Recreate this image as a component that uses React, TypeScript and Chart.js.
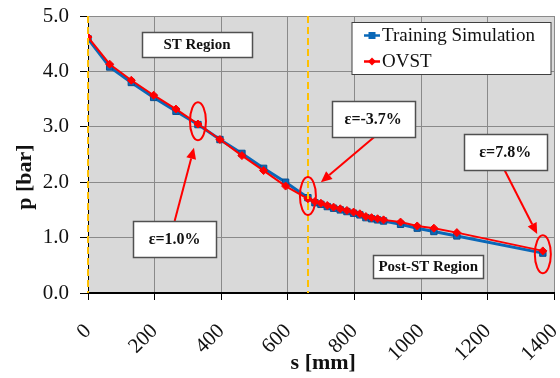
import React, { useEffect, useRef } from 'react';
import { Chart, registerables } from 'chart.js';
Chart.register(...registerables);

// ---- data ----
const sValues = [0, 65, 130, 197, 264, 330, 396, 462, 527, 593, 660, 681, 699, 718, 737, 757, 777, 797, 816, 834, 851, 869, 887, 938, 988, 1038, 1107, 1365];
const trainingP = [4.59, 4.08, 3.80, 3.53, 3.28, 3.04, 2.77, 2.52, 2.25, 2.00, 1.72, 1.63, 1.60, 1.56, 1.53, 1.50, 1.47, 1.44, 1.41, 1.36, 1.34, 1.32, 1.30, 1.24, 1.17, 1.11, 1.03, 0.72];
const ovstP = [4.62, 4.13, 3.84, 3.57, 3.32, 3.05, 2.77, 2.48, 2.21, 1.93, 1.70, 1.65, 1.62, 1.58, 1.55, 1.52, 1.49, 1.46, 1.43, 1.38, 1.36, 1.34, 1.32, 1.28, 1.21, 1.17, 1.09, 0.76];
const seriesNames = ['Training Simulation', 'OVST'];
const xTicks = [0, 200, 400, 600, 800, 1000, 1200, 1400];
const yTicks = [0, 0.5, 1, 1.5, 2, 2.5, 3, 3.5, 4, 4.5, 5];
const regionBoundaries = [0, 660];
const regionLabels = [
  { text: 'ST Region', s: 327, p: 4.49, w: 110, h: 25 },
  { text: 'Post-ST Region', s: 1021, p: 0.48, w: 110, h: 23 },
];
const errorLabels = [
  { text: 'ε=1.0%', s: 260, p: 0.975 },
  { text: 'ε=-3.7%', s: 856, p: 3.14 },
  { text: 'ε=7.8%', s: 1252, p: 2.54 },
];
const ellipses = [
  { s: 330, p: 3.10 },
  { s: 660, p: 1.75 },
  { s: 1365, p: 0.70 },
];
const arrows = [
  { s0: 260, p0: 1.30, s1: 318, p1: 2.62 },
  { s0: 860, p0: 2.82, s1: 699, p1: 2.00 },
  { s0: 1250, p0: 2.22, s1: 1348, p1: 1.065 },
];

const BLUE = '#0a68b8';
const RED = '#ff0000';
const SERIF = '"Liberation Serif", "Times New Roman", serif';

const decor = {
  id: 'decor',
  beforeDraw(chart: any) {
    const { ctx, chartArea: a } = chart;
    ctx.save();
    ctx.fillStyle = '#d9d9d9';
    ctx.fillRect(a.left, a.top, a.right - a.left, a.bottom - a.top);
    ctx.restore();
  },
  afterDatasetsDraw(chart: any) {
    const { ctx, chartArea: a } = chart;
    const X = (v: number) => chart.scales.x.getPixelForValue(v);
    const Y = (v: number) => chart.scales.y.getPixelForValue(v);
    ctx.save();
    // region boundaries
    ctx.strokeStyle = '#ffc000';
    ctx.lineWidth = 2;
    ctx.setLineDash([7, 4]);
    regionBoundaries.forEach((s) => {
      const x = Math.round(X(s));
      ctx.beginPath();
      ctx.moveTo(x, a.top);
      ctx.lineTo(x, a.bottom);
      ctx.stroke();
    });
    ctx.setLineDash([]);
    // ellipses
    ctx.strokeStyle = RED;
    ctx.lineWidth = 2;
    ellipses.forEach((e) => {
      ctx.beginPath();
      ctx.ellipse(X(e.s), Y(e.p), 8, 19, 0, 0, Math.PI * 2);
      ctx.stroke();
    });
    // arrows
    ctx.fillStyle = RED;
    arrows.forEach((ar) => {
      const x0 = X(ar.s0), y0 = Y(ar.p0), x1 = X(ar.s1), y1 = Y(ar.p1);
      const ang = Math.atan2(y1 - y0, x1 - x0);
      const L = 11, W = 5;
      const bx = x1 - L * Math.cos(ang), by = y1 - L * Math.sin(ang);
      ctx.beginPath();
      ctx.moveTo(x0, y0);
      ctx.lineTo(bx, by);
      ctx.stroke();
      ctx.beginPath();
      ctx.moveTo(x1, y1);
      ctx.lineTo(bx + W * Math.sin(ang), by - W * Math.cos(ang));
      ctx.lineTo(bx - W * Math.sin(ang), by + W * Math.cos(ang));
      ctx.closePath();
      ctx.fill();
    });
    // boxes
    const box = (cx: number, cy: number, w: number, h: number, text: string, font: string) => {
      const l = Math.round(cx - w / 2) + 0.5, t = Math.round(cy - h / 2) + 0.5;
      ctx.fillStyle = '#ffffff';
      ctx.fillRect(l, t, w, h);
      ctx.strokeStyle = '#505050';
      ctx.lineWidth = 1.5;
      ctx.strokeRect(l, t, w, h);
      ctx.fillStyle = '#111';
      ctx.font = font;
      ctx.textAlign = 'center';
      ctx.textBaseline = 'middle';
      ctx.fillText(text, cx, cy + 1);
    };
    regionLabels.forEach((r) => box(X(r.s), Y(r.p), r.w, r.h, r.text, `bold 15px ${SERIF}`));
    errorLabels.forEach((r) => box(X(r.s), Y(r.p), 83, 36, r.text, `bold 16px ${SERIF}`));

    // legend
    const lw = 199, lh = 52;
    const ll = a.right - 206 + 3.5, lt = a.top + 6 + 0.5;
    ctx.fillStyle = '#ffffff';
    ctx.fillRect(ll, lt, lw, lh);
    ctx.strokeStyle = '#404040';
    ctx.lineWidth = 1;
    ctx.strokeRect(ll, lt, lw, lh);
    ctx.font = `19px ${SERIF}`;
    ctx.textAlign = 'left';
    ctx.textBaseline = 'middle';
    [0, 1].forEach((i) => {
      const cy = lt + 13 + i * 26;
      const color = i === 0 ? BLUE : RED;
      ctx.strokeStyle = color;
      ctx.lineWidth = 2.5;
      ctx.beginPath();
      ctx.moveTo(ll + 12, cy);
      ctx.lineTo(ll + 28, cy);
      ctx.stroke();
      ctx.fillStyle = color;
      if (i === 0) {
        ctx.fillRect(ll + 16.5, cy - 3.5, 7, 7);
      } else {
        ctx.beginPath();
        ctx.moveTo(ll + 20, cy - 4);
        ctx.lineTo(ll + 24, cy);
        ctx.lineTo(ll + 20, cy + 4);
        ctx.lineTo(ll + 16, cy);
        ctx.closePath();
        ctx.fill();
      }
      ctx.fillStyle = '#111';
      ctx.fillText(seriesNames[i], ll + 30, cy + 1);
    });
    ctx.restore();
  },
  afterDraw(chart: any) {
    const { ctx, chartArea: a } = chart;
    ctx.save();
    ctx.fillStyle = '#111';
    ctx.font = `bold 22px ${SERIF}`;
    ctx.textAlign = 'center';
    ctx.textBaseline = 'middle';
    ctx.fillText('s [mm]', (a.left + a.right) / 2 + 2, 363);
    ctx.translate(25, 177);
    ctx.rotate(-Math.PI / 2);
    ctx.fillText('p [bar]', 0, 0);
    ctx.restore();
  },
};

export default function App() {
  const ref = useRef<HTMLCanvasElement>(null);
  useEffect(() => {
    if (!ref.current) return;
    const chart = new Chart(ref.current, {
      type: 'line',
      data: {
        datasets: [
          {
            label: seriesNames[0],
            data: sValues.map((s, i) => ({ x: s, y: trainingP[i] })),
            borderColor: BLUE,
            backgroundColor: BLUE,
            borderWidth: 3,
            pointStyle: 'rect',
            pointRadius: 4.5,
            pointBorderColor: '#0a4f8f',
            pointBorderWidth: 1,
            tension: 0,
            order: 2,
          },
          {
            label: seriesNames[1],
            data: sValues.map((s, i) => ({ x: s, y: ovstP[i] })),
            borderColor: RED,
            backgroundColor: RED,
            borderWidth: 2,
            pointStyle: 'rectRot',
            pointRadius: 4,
            pointBorderWidth: 1,
            tension: 0,
            order: 1,
          },
        ],
      },
      options: {
        responsive: false,
        animation: false,
        layout: { padding: { top: 16, right: 2, left: 0, bottom: 0 } },
        plugins: { legend: { display: false }, tooltip: { enabled: false } },
        scales: {
          x: {
            type: 'linear',
            min: 0,
            max: 1400,
            afterBuildTicks: (sc: any) => { sc.ticks = xTicks.map((v) => ({ value: v })); },
            afterFit: (sc: any) => { sc.height = 85; sc.paddingLeft = 0; sc.paddingRight = 0; },
            ticks: {
              minRotation: 45,
              maxRotation: 45,
              padding: 19,
              color: '#111',
              font: { family: SERIF, size: 21 },
              callback: (v: any) => String(v),
            },
            grid: { color: '#8a8a8a', lineWidth: 1, tickLength: 7, tickColor: '#000' },
            border: { color: '#000', width: 2 },
          },
          y: {
            min: 0,
            max: 5,
            afterBuildTicks: (sc: any) => { sc.ticks = yTicks.map((v) => ({ value: v })); },
            afterFit: (sc: any) => { sc.width = 88; sc.paddingTop = 0; sc.paddingBottom = 0; },
            ticks: {
              padding: 11,
              color: '#111',
              font: { family: SERIF, size: 21 },
              callback: (v: any) => Number(v).toFixed(1),
            },
            grid: { color: '#8a8a8a', lineWidth: 1, tickLength: 8, tickColor: '#000' },
            border: { color: '#000', width: 1 },
          },
        },
      },
      plugins: [decor],
    } as any);
    return () => chart.destroy();
  }, []);
  return (
    <div style={{ position: 'fixed', left: 0, top: 0, width: 560, height: 378, background: '#fff' }}>
      <canvas ref={ref} width={560} height={378} style={{ display: 'block' }} />
    </div>
  );
}
